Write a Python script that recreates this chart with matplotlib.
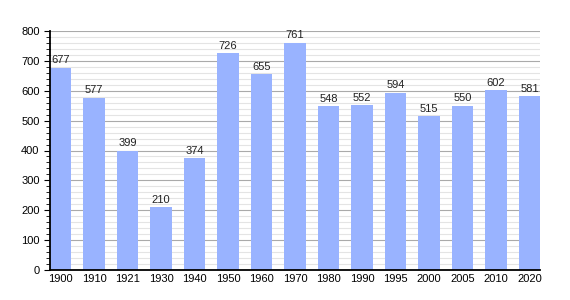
import matplotlib
matplotlib.use("Agg")
import matplotlib.pyplot as plt
from matplotlib.ticker import MultipleLocator

years = ["1900", "1910", "1921", "1930", "1940", "1950", "1960", "1970",
         "1980", "1990", "1995", "2000", "2005", "2010", "2020"]
population = [677, 577, 399, 210, 374, 726, 655, 761, 548, 552, 594, 515, 550, 602, 581]

plt.rcParams['font.family'] = ['Liberation Sans', 'DejaVu Sans']

fig = plt.figure(figsize=(5.7, 3.0), dpi=100)
ax = fig.add_axes([50/570, 30/300, 490/570, 239/300])

w = 0.63
x = list(range(len(years)))
ax.bar(x, population, width=w, color='#99b3ff', zorder=3)
for xi, v in zip(x, population):
    ax.text(xi, v + 8, str(v), ha='center', va='bottom', fontsize=8, color='#222222', zorder=4)

ax.set_xlim(-w/2, len(years) - 1 + w/2)
ax.set_ylim(0, 800)
ax.set_xticks(x)
ax.set_xticklabels(years, fontsize=8)
ax.yaxis.set_major_locator(MultipleLocator(100))
ax.yaxis.set_minor_locator(MultipleLocator(20))
ax.tick_params(axis='y', which='major', labelsize=8, length=4, direction='out')
ax.tick_params(axis='y', which='minor', length=3, direction='out')
ax.tick_params(axis='x', length=0, pad=3)
ax.grid(axis='y', which='major', color='#aaaaaa', linewidth=0.8, zorder=1)
ax.grid(axis='y', which='minor', color='#e4e4e4', linewidth=0.8, zorder=0)
for s in ['top', 'right']:
    ax.spines[s].set_visible(False)
for s in ['left', 'bottom']:
    ax.spines[s].set_linewidth(1.3)
    ax.spines[s].set_zorder(5)

fig.savefig("out.png", dpi=100)
